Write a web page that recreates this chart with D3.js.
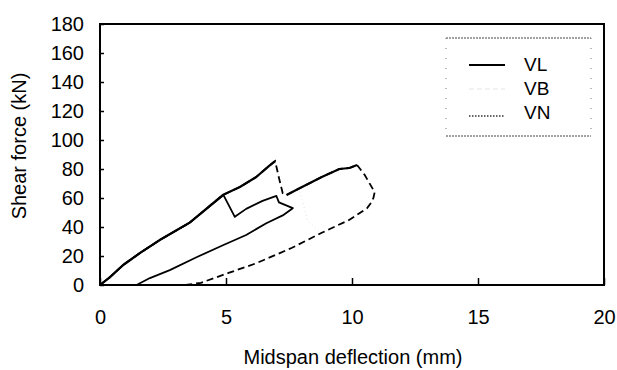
<!DOCTYPE html>
<html lang="en">
<head>
    <meta charset="UTF-8">
    <title>Shear force vs midspan deflection</title>
    <script src="https://cdnjs.cloudflare.com/ajax/libs/d3/7.8.5/d3.min.js"></script>
    <style>
        body { margin: 0; background: #fff; }
        svg { display: block; font-family: "Liberation Sans", Arial, sans-serif; }
    </style>
</head>
<body>
    <svg id="chart" width="617" height="370"></svg>

    <script>
        // Data: [deflection mm, shear kN]
        const vlData = [
            [0, 0], [0.4, 5.5], [0.92, 13.8], [1.58, 22], [2.37, 31], [3.56, 43], [4.9, 62],
            [5.35, 47], [5.8, 52.5], [6.45, 58], [7.0, 61.4], [7.1, 57], [7.65, 53],
            [7.25, 48], [6.6, 42.6], [5.8, 34.5], [4.9, 27.6], [3.85, 19.3], [2.77, 10.3],
            [1.98, 4.8], [1.45, 0]
        ];
        const vbData = [
            [0, 0], [0.4, 5.5], [0.92, 13.8], [1.58, 22], [2.37, 31], [3.56, 43], [4.87, 62],
            [5.55, 67.6], [6.2, 74.5], [6.7, 82], [6.95, 85.5],
            [7.1, 74], [7.25, 63.4], [7.4, 62], [7.9, 66.5], [8.8, 74.5], [9.5, 80], [9.9, 80.7], [10.2, 82.8],
            [10.5, 76], [10.9, 64], [10.85, 60], [10.75, 56.5], [10.6, 53], [9.9, 45],
            [8.8, 36], [7.6, 25.5], [6.2, 15], [5.1, 8.3], [4.0, 1.5], [3.4, 0]
        ];
        const vnData = [
            [0, 0], [0.4, 6], [0.9, 14], [1.6, 22.5], [2.4, 31.5], [3.6, 43.5], [4.9, 62.5],
            [5.55, 67.8], [6.2, 74.8], [6.95, 85], [7.25, 63.6], [7.4, 62.2], [7.9, 66.3],
            [8.25, 44], [8.7, 37]
        ];
        // parts of VB where the recorded points are dense enough to look solid
        const vbSolidRanges = [[0, 10], [13, 18]];

        const xTicks = [0, 5, 10, 15, 20];
        const yTicks = [0, 20, 40, 60, 80, 100, 120, 140, 160, 180];
        const legendLabels = ["VL", "VB", "VN"];

        const svg = d3.select("#chart");
        const plotL = 100, plotR = 604, plotT = 24, plotB = 285;

        const x = d3.scaleLinear().domain([0, 20]).range([plotL, plotR]);
        const y = d3.scaleLinear().domain([0, 180]).range([plotB, plotT]);

        const line = d3.line().x(d => x(d[0])).y(d => y(d[1]));

        // axes with inward ticks
        const yAxis = svg.append("g")
            .attr("transform", `translate(${plotL},0)`)
            .call(d3.axisLeft(y).tickValues(yTicks).tickSize(-4).tickPadding(16));
        const xAxis = svg.append("g")
            .attr("transform", `translate(0,${plotB})`)
            .call(d3.axisBottom(x).tickValues(xTicks).tickSize(-7).tickPadding(25));

        [yAxis, xAxis].forEach(a => {
            a.select(".domain").remove();
            a.selectAll(".tick line").attr("stroke", "#000").attr("stroke-width", 1.5);
            a.selectAll(".tick text")
                .attr("fill", "#000")
                .style("font-size", "20px")
                .style("font-family", '"Liberation Sans", Arial, sans-serif');
        });

        // VN (faint dotted, mostly lost in the scan)
        svg.append("path")
            .datum(vnData)
            .attr("d", line)
            .attr("fill", "none")
            .attr("stroke", "#e2e2e2")
            .attr("stroke-width", 1)
            .attr("stroke-dasharray", "1,3");

        // VB dashed, with dense branches drawn solid
        svg.append("path")
            .datum(vbData)
            .attr("d", line)
            .attr("fill", "none")
            .attr("stroke", "#000")
            .attr("stroke-width", 1.8)
            .attr("stroke-dasharray", "7,4");
        vbSolidRanges.forEach(r => {
            svg.append("path")
                .datum(vbData.slice(r[0], r[1] + 1))
                .attr("d", line)
                .attr("fill", "none")
                .attr("stroke", "#000")
                .attr("stroke-width", 2.2)
                .attr("stroke-linejoin", "round");
        });

        // VL solid
        svg.append("path")
            .datum(vlData)
            .attr("d", line)
            .attr("fill", "none")
            .attr("stroke", "#000")
            .attr("stroke-width", 1.8)
            .attr("stroke-linejoin", "round");

        // frame
        svg.append("rect")
            .attr("x", plotL).attr("y", plotT)
            .attr("width", plotR - plotL).attr("height", plotB - plotT)
            .attr("fill", "none")
            .attr("stroke", "#000")
            .attr("stroke-width", 2);

        // legend
        const lg = svg.append("g");
        const lx0 = 446, lx1 = 591, ly0 = 38, ly1 = 136;
        lg.append("line").attr("x1", lx0).attr("x2", lx1).attr("y1", ly0).attr("y2", ly0)
            .attr("stroke", "#444").attr("stroke-dasharray", "2,1");
        lg.append("line").attr("x1", lx0).attr("x2", lx1).attr("y1", ly1).attr("y2", ly1)
            .attr("stroke", "#444").attr("stroke-dasharray", "2,1");
        lg.append("line").attr("x1", lx0).attr("x2", lx0).attr("y1", ly0).attr("y2", ly1)
            .attr("stroke", "#777").attr("stroke-dasharray", "1,9");
        lg.append("line").attr("x1", lx1).attr("x2", lx1).attr("y1", ly0).attr("y2", ly1)
            .attr("stroke", "#777").attr("stroke-dasharray", "1,9");

        const legendStyles = [
            { stroke: "#000", width: 2.2, dash: null },
            { stroke: "#e4e4e4", width: 1, dash: "5,3" },
            { stroke: "#333", width: 1.5, dash: "1.5,1.5" }
        ];
        legendLabels.forEach((name, i) => {
            const by = 71 + i * 24;
            const sy = by - 6 + (i === 2 ? 3 : 0);
            lg.append("line")
                .attr("x1", 469).attr("x2", 505)
                .attr("y1", sy).attr("y2", sy)
                .attr("stroke", legendStyles[i].stroke)
                .attr("stroke-width", legendStyles[i].width)
                .attr("stroke-dasharray", legendStyles[i].dash);
            lg.append("text")
                .attr("x", 524).attr("y", by)
                .attr("font-size", 19)
                .attr("fill", "#000")
                .text(name);
        });

        // axis titles
        svg.append("text")
            .attr("x", 353).attr("y", 364)
            .attr("text-anchor", "middle")
            .attr("font-size", 20)
            .text("Midspan deflection (mm)");
        svg.append("text")
            .attr("transform", "translate(26,146) rotate(-90)")
            .attr("text-anchor", "middle")
            .attr("font-size", 20)
            .text("Shear force (kN)");
    </script>
</body>
</html>
